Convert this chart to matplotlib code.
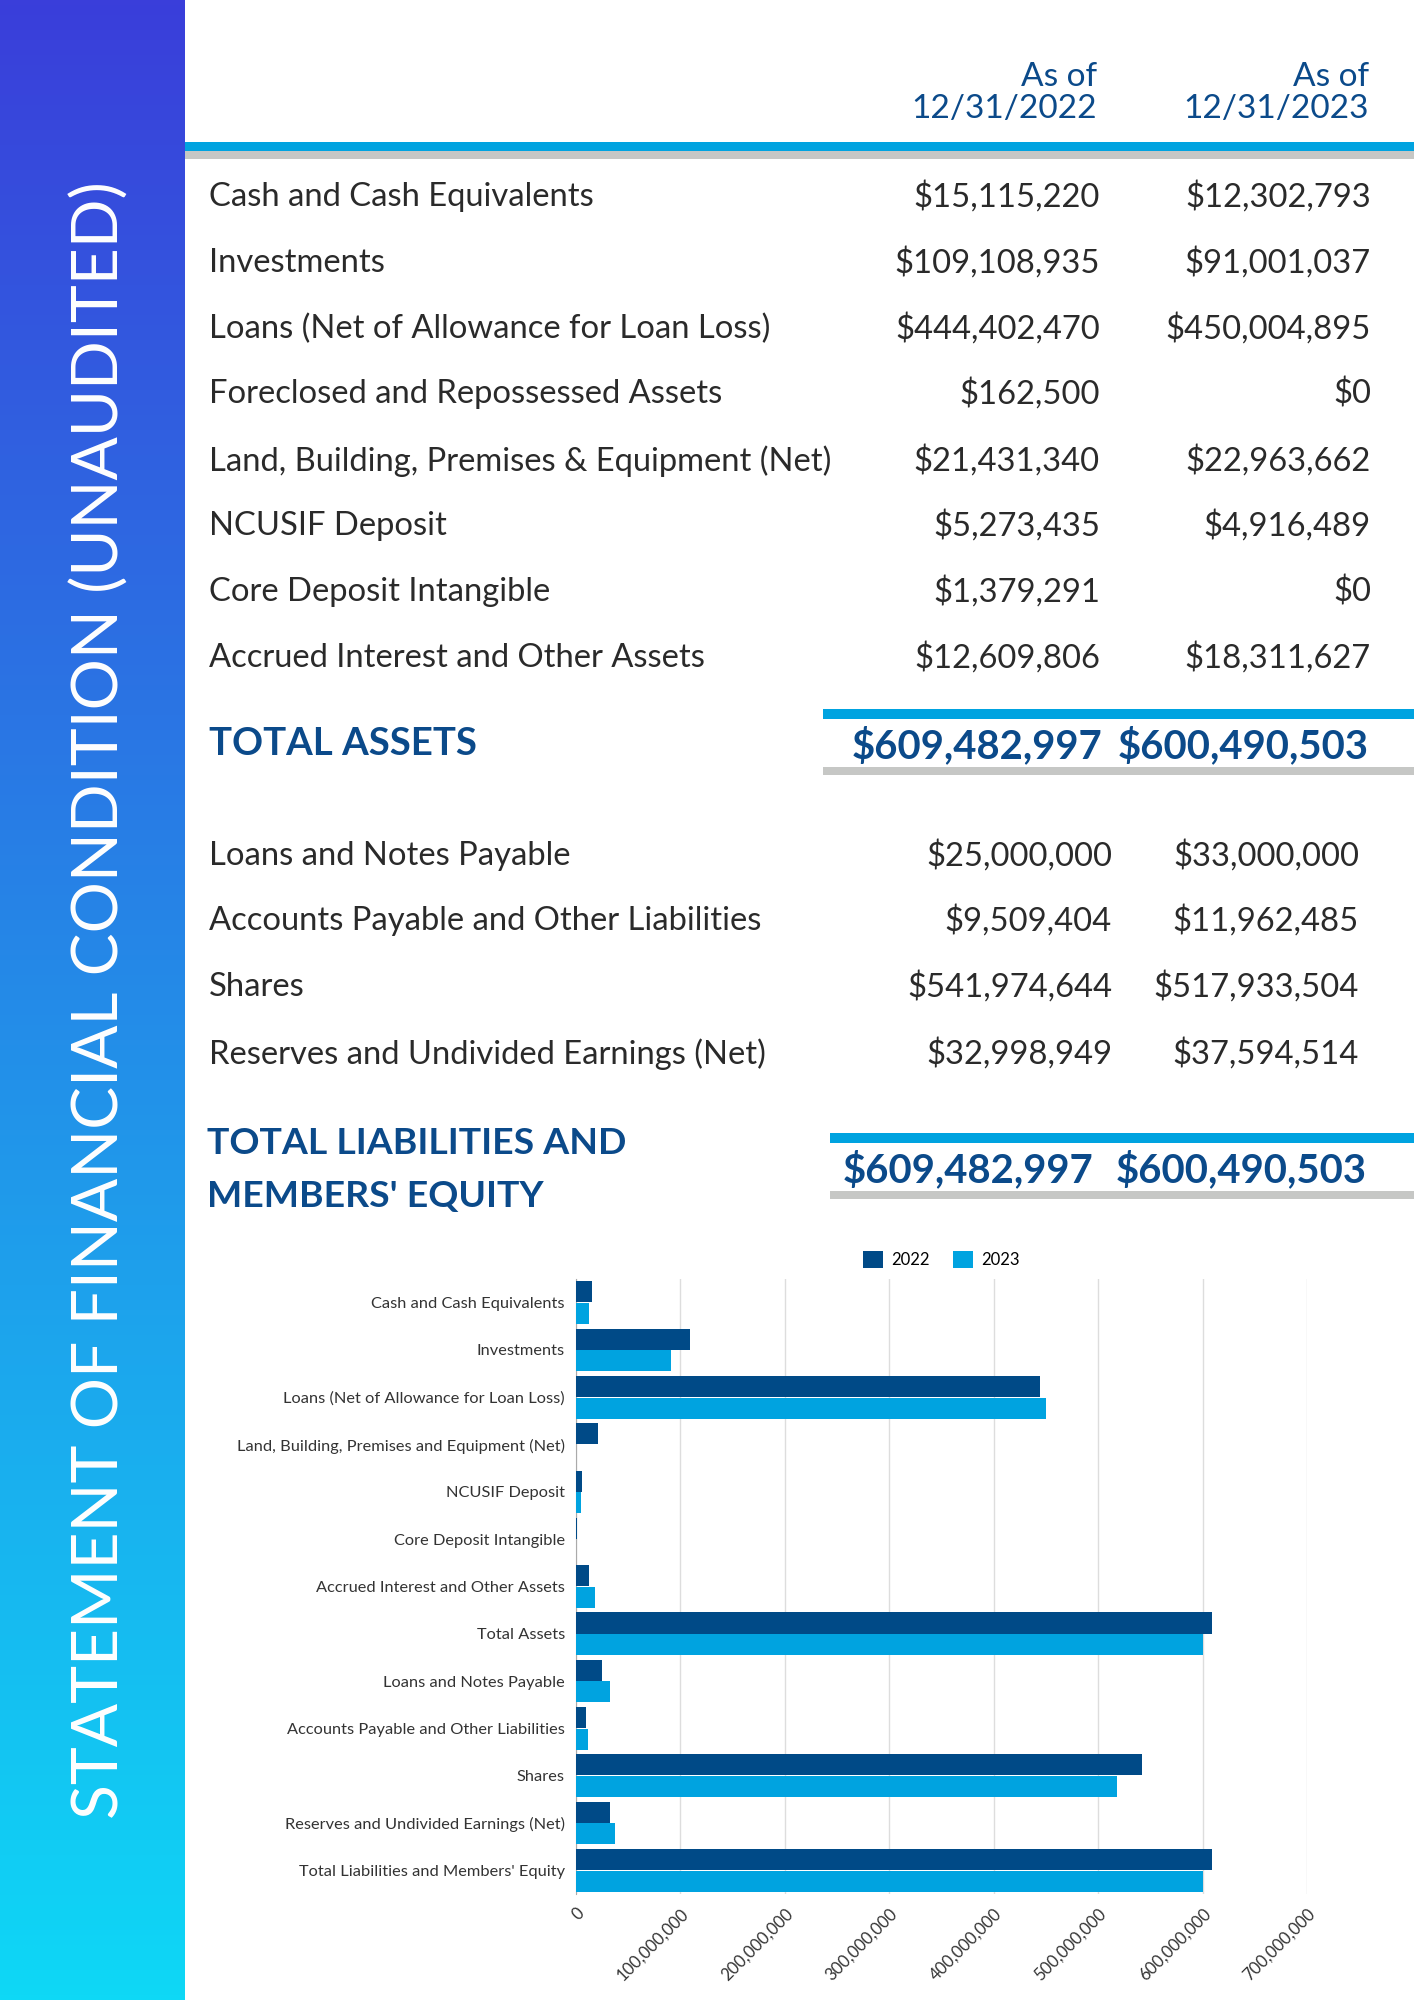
import numpy as np
import matplotlib.pyplot as plt
from matplotlib.patches import Rectangle
from matplotlib.ticker import FuncFormatter

# statement of financial condition - table + bar chart page

plt.rcParams['font.family'] = ['Lato', 'DejaVu Sans']

W, H = 1414, 2000
NAVY = '#0b4a8a'
LIGHT = '#00a3e0'
GRAY = '#c6c7c5'
TXT = '#2a2a2a'

header_2022 = "As of\n12/31/2022"
header_2023 = "As of\n12/31/2023"

asset_labels = ["Cash and Cash Equivalents", "Investments",
                "Loans (Net of Allowance for Loan Loss)",
                "Foreclosed and Repossessed Assets",
                "Land, Building, Premises & Equipment (Net)",
                "NCUSIF Deposit", "Core Deposit Intangible",
                "Accrued Interest and Other Assets"]
asset_2022 = ["$15,115,220", "$109,108,935", "$444,402,470", "$162,500",
              "$21,431,340", "$5,273,435", "$1,379,291", "$12,609,806"]
asset_2023 = ["$12,302,793", "$91,001,037", "$450,004,895", "$0",
              "$22,963,662", "$4,916,489", "$0", "$18,311,627"]
total_assets = ["$609,482,997", "$600,490,503"]

liab_labels = ["Loans and Notes Payable", "Accounts Payable and Other Liabilities",
               "Shares", "Reserves and Undivided Earnings (Net)"]
liab_2022 = ["$25,000,000", "$9,509,404", "$541,974,644", "$32,998,949"]
liab_2023 = ["$33,000,000", "$11,962,485", "$517,933,504", "$37,594,514"]
total_liab = ["$609,482,997", "$600,490,503"]

# chart data
chart_cats = ["Cash and Cash Equivalents", "Investments",
              "Loans (Net of Allowance for Loan Loss)",
              "Land, Building, Premises and Equipment (Net)",
              "NCUSIF Deposit", "Core Deposit Intangible",
              "Accrued Interest and Other Assets", "Total Assets",
              "Loans and Notes Payable", "Accounts Payable and Other Liabilities",
              "Shares", "Reserves and Undivided Earnings (Net)",
              "Total Liabilities and Members' Equity"]
chart_2022 = [15115220, 109108935, 444402470, 21431340, 5273435, 1379291,
              12609806, 609482997, 25000000, 9509404, 541974644, 32998949,
              609482997]
chart_2023 = [12302793, 91001037, 450004895, np.nan, 4916489, 0,
              18311627, 600490503, 33000000, 11962485, 517933504, 37594514,
              600490503]


def fx(x):
    return x / W


def fy(y):
    return 1 - y / H


fig = plt.figure(figsize=(W / 100, H / 100), dpi=100)

# left gradient strip
strip = fig.add_axes([0, 0, fx(185), 1])
top = np.array([58, 62, 218]) / 255
bot = np.array([14, 216, 246]) / 255
t = np.linspace(0, 1, 400)[:, None]
grad = (top[None, :] * (1 - t) + bot[None, :] * t)[:, None, :]
strip.imshow(grad, aspect='auto', extent=[0, 1, 0, 1])
strip.axis('off')
fig.text(fx(100), fy(1000), "STATEMENT OF FINANCIAL CONDITION (UNAUDITED)",
         rotation=90, ha='center', va='center', color='white',
         fontsize=46.2, fontweight='normal')


def rule(x0, y0, y1, color):
    fig.add_artist(Rectangle((fx(x0), fy(y1)), 1 - fx(x0), (y1 - y0) / H,
                             transform=fig.transFigure, color=color, lw=0))


# header
fig.text(fx(1097), fy(93), header_2022, ha='right', va='center', color=NAVY,
         fontsize=24, linespacing=1.1)
fig.text(fx(1369), fy(93), header_2023, ha='right', va='center', color=NAVY,
         fontsize=24, linespacing=1.1)
rule(185, 142, 151, LIGHT)
rule(185, 151, 159, GRAY)

asset_y = [197, 263, 329, 394, 461, 526, 592, 658]
for i in range(len(asset_labels)):
    fig.text(fx(209), fy(asset_y[i]), asset_labels[i], ha='left', va='center',
             color=TXT, fontsize=23.6)
    fig.text(fx(1100), fy(asset_y[i]), asset_2022[i], ha='right', va='center',
             color=TXT, fontsize=23.6)
    fig.text(fx(1371), fy(asset_y[i]), asset_2023[i], ha='right', va='center',
             color=TXT, fontsize=23.6)

fig.text(fx(209), fy(744), "TOTAL ASSETS", ha='left', va='center',
         color=NAVY, fontsize=27.6, fontweight='bold')
rule(823, 709, 719, LIGHT)
rule(823, 767, 775, GRAY)
fig.text(fx(1102), fy(746), total_assets[0], ha='right', va='center',
         color=NAVY, fontsize=28.8, fontweight='bold')
fig.text(fx(1369), fy(746), total_assets[1], ha='right', va='center',
         color=NAVY, fontsize=28.8, fontweight='bold')

liab_y = [856, 921, 987, 1054]
for i in range(len(liab_labels)):
    fig.text(fx(209), fy(liab_y[i]), liab_labels[i], ha='left', va='center',
             color=TXT, fontsize=23.6)
    fig.text(fx(1112), fy(liab_y[i]), liab_2022[i], ha='right', va='center',
             color=TXT, fontsize=23.6)
    fig.text(fx(1359), fy(liab_y[i]), liab_2023[i], ha='right', va='center',
             color=TXT, fontsize=23.6)

fig.text(fx(207), fy(1144), "TOTAL LIABILITIES AND", ha='left', va='center',
         color=NAVY, fontsize=26.9, fontweight='bold')
fig.text(fx(207), fy(1196), "MEMBERS' EQUITY", ha='left', va='center',
         color=NAVY, fontsize=26.9, fontweight='bold')
rule(830, 1133, 1143, LIGHT)
rule(830, 1191, 1199, GRAY)
fig.text(fx(1093), fy(1170), total_liab[0], ha='right', va='center',
         color=NAVY, fontsize=28.8, fontweight='bold')
fig.text(fx(1367), fy(1170), total_liab[1], ha='right', va='center',
         color=NAVY, fontsize=28.8, fontweight='bold')

# bar chart
ax = fig.add_axes([fx(576), fy(1894), (1307 - 576) / W, (1894 - 1279) / H])
y = np.arange(len(chart_cats))
h = 0.445
off = 0.229
ax.barh(y - off, chart_2022, height=h, color='#004a87', label='2022', zorder=3)
ax.barh(y + off, chart_2023, height=h, color=LIGHT, label='2023', zorder=3)
ax.set_yticks(y)
ax.set_yticklabels(chart_cats, fontsize=11.8, color='#333333')
ax.set_ylim(len(chart_cats) - 0.5, -0.5)
ax.set_xlim(0, 7e8)
ax.set_xticks(np.arange(0, 8e8, 1e8))
ax.xaxis.set_major_formatter(FuncFormatter(lambda v, p: f"{int(v):,}"))
plt.setp(ax.get_xticklabels(), rotation=45, ha='right', va='top',
         rotation_mode='anchor', fontsize=12, color='#333333')
ax.tick_params(length=0, pad=8)
ax.grid(axis='x', color='#dddddd', linewidth=1, zorder=0)
for s in ['top', 'right', 'bottom']:
    ax.spines[s].set_visible(False)
ax.spines['left'].set_color('#aaaaaa')
ax.legend(loc='lower center', bbox_to_anchor=(0.5, 1.0), ncol=2,
          frameon=False, fontsize=12, handlelength=1.2, handleheight=1.2,
          handletextpad=0.5, columnspacing=1.4, borderaxespad=0.25)

fig.savefig('out.png', dpi=100)
